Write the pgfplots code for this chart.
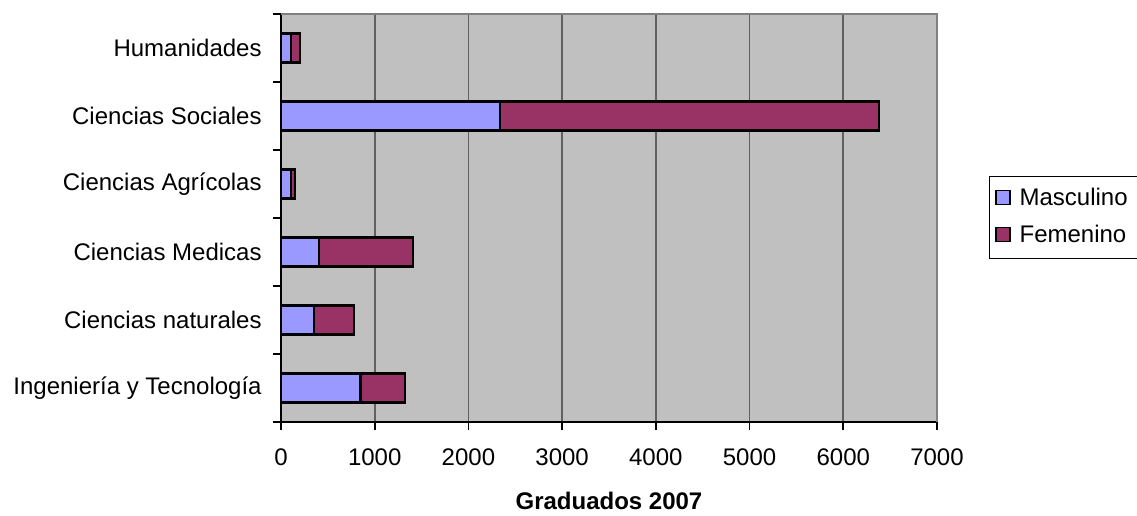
\documentclass[border=0pt]{standalone}
\usepackage{pgfplots}
\pgfplotsset{compat=1.18}
\usepackage{fontspec}
\setmainfont{Liberation Sans}
\definecolor{masc}{HTML}{9999FF}
\definecolor{fem}{HTML}{993366}
\definecolor{bg}{HTML}{C0C0C0}
\definecolor{gridc}{HTML}{606060}
\begin{document}
\fontsize{12}{14.4}\selectfont
\begin{tikzpicture}
\useasboundingbox (-140.5pt,-46.5pt) rectangle (428pt,211pt);
\begin{axis}[
  at={(0,0)}, anchor=south west,
  scale only axis,
  width=328pt, height=204pt,
  xbar stacked,
  bar width=14.5pt,
  xmin=0, xmax=7000,
  ymin=-0.5, ymax=5.5,
  xtick={0,1000,...,7000},
  ytick={0,1,2,3,4,5},
  yticklabels={Ingeniería y Tecnología, Ciencias naturales, Ciencias Medicas, Ciencias Agrícolas, Ciencias Sociales, Humanidades},
  minor ytick={-0.5,0.5,1.5,2.5,3.5,4.5,5.5},
  tick align=outside,
  major tick length=4pt,
  minor tick length=4pt,
  ytick style={draw=none},
  minor y tick style={draw=black, line width=0.8pt},
  xtick style={draw=black, line width=0.8pt},
  xmajorgrids,
  major grid style={gridc, line width=0.8pt},
  axis background/.style={fill=bg},
  axis x line*=bottom, axis y line*=left,
  axis line style={line width=0.9pt},
  /pgf/number format/assume math mode=true,
  /pgf/number format/set thousands separator={},
  ticklabel style={font=\fontsize{12}{14.4}\selectfont},
  yticklabel style={xshift=-1.5pt},
  xticklabel style={yshift=-5pt},
  xlabel={\textbf{Graduados 2007}},
  xlabel style={font=\fontsize{12}{14.4}\selectfont, yshift=-5pt},
  legend style={at={(1.0793,0.603)}, anchor=north west, draw=black, fill=white,
    font=\fontsize{12}{14.4}\selectfont, row sep=4pt, inner xsep=3pt, inner ysep=4pt,
    legend cell align=left, /tikz/every odd column/.style={column sep=2.5pt}},
  legend image code/.code={\draw[#1, draw=black, line width=0.6pt] (0pt,-3pt) rectangle (7pt,4pt);},
  clip=false,
]
\addplot[fill=masc, draw=black, line width=1.1pt] coordinates {
  (848,0) (348,1) (407,2) (103,3) (2333,4) (103,5)};
\addlegendentry{Masculino}
\addplot[fill=fem, draw=black, line width=1.1pt] coordinates {
  (474,0) (427,1) (1000,2) (44,3) (4044,4) (103,5)};
\addlegendentry{Femenino}
\draw[gray, line width=0.9pt] (rel axis cs:0,1) -- (rel axis cs:1,1) -- (rel axis cs:1,0);
\end{axis}
\end{tikzpicture}
\end{document}
